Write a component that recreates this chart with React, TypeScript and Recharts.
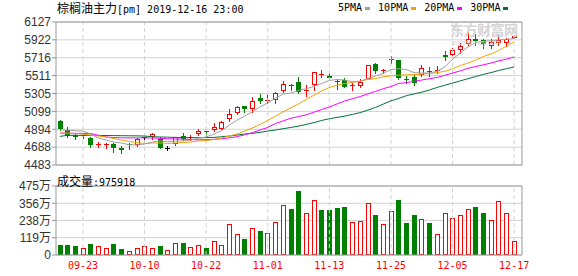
import { ComposedChart, BarChart, Bar, Line, XAxis, YAxis, CartesianGrid, ReferenceLine } from 'recharts'

const DATES = [
  '09-18', '09-19', '09-20', '09-23', '09-24', '09-25', '09-26', '09-27', '09-30', '10-08',
  '10-09', '10-10', '10-11', '10-14', '10-15', '10-16', '10-17', '10-18', '10-21', '10-22',
  '10-23', '10-24', '10-25', '10-28', '10-29', '10-30', '10-31', '11-01', '11-04', '11-05',
  '11-06', '11-07', '11-08', '11-11', '11-12', '11-13', '11-14', '11-15', '11-18', '11-19',
  '11-20', '11-21', '11-22', '11-25', '11-26', '11-27', '11-28', '11-29', '12-02', '12-03',
  '12-04', '12-05', '12-06', '12-09', '12-10', '12-11', '12-12', '12-13', '12-16', '12-17',
]

const OPEN = [
  4988, 4880, 4831, 4822, 4793, 4724, 4726, 4728, 4678, 4724,
  4713, 4800, 4808, 4782, 4682, 4724, 4816, 4790, 4839, 4870,
  4885, 4900, 5014, 5083, 5160, 5129, 5248, 5225, 5229, 5336,
  5389, 5439, 5340, 5401, 5525, 5504, 5450, 5458, 5399, 5389,
  5466, 5642, 5569, 5703, 5688, 5466, 5496, 5519, 5565, 5573,
  5745, 5749, 5802, 5871, 5932, 5917, 5848, 5886, 5886, 5948,
]
const HIGH = [
  4999, 4915, 4847, 4854, 4801, 4747, 4732, 4739, 4701, 4732,
  4790, 4828, 4854, 4801, 4705, 4808, 4847, 4828, 4893, 4872,
  4969, 4992, 5122, 5160, 5160, 5267, 5298, 5286, 5324, 5450,
  5409, 5496, 5397, 5550, 5573, 5553, 5466, 5478, 5427, 5466,
  5634, 5657, 5588, 5734, 5688, 5511, 5527, 5634, 5615, 5619,
  5795, 5833, 5883, 6017, 5986, 5932, 5932, 5978, 5948, 5978,
]
const LOW = [
  4885, 4810, 4778, 4790, 4693, 4693, 4682, 4632, 4624, 4663,
  4705, 4763, 4778, 4675, 4655, 4709, 4770, 4770, 4824, 4801,
  4877, 4893, 4992, 5068, 5091, 5091, 5198, 5191, 5198, 5321,
  5344, 5313, 5282, 5344, 5489, 5458, 5351, 5374, 5344, 5374,
  5466, 5542, 5535, 5650, 5466, 5424, 5397, 5501, 5501, 5538,
  5688, 5719, 5765, 5856, 5863, 5833, 5825, 5863, 5856, 5940,
]
const CLOSE = [
  4893, 4820, 4801, 4828, 4713, 4727, 4729, 4682, 4655, 4716,
  4782, 4800, 4835, 4682, 4682, 4801, 4785, 4808, 4877, 4866,
  4916, 4977, 5068, 5145, 5122, 5221, 5214, 5229, 5313, 5412,
  5404, 5324, 5344, 5550, 5530, 5478, 5435, 5381, 5401, 5439,
  5627, 5565, 5573, 5707, 5478, 5462, 5420, 5596, 5561, 5580,
  5730, 5806, 5848, 5932, 5909, 5879, 5902, 5925, 5932, 5971,
]

// 成交量, 万
const VOLUME = [
  69, 69, 62, 46, 76, 60, 46, 76, 39, 25,
  46, 60, 46, 60, 32, 80, 83, 53, 67, 48,
  94, 67, 211, 142, 108, 184, 165, 149, 225, 342,
  315, 441, 287, 377, 310, 310, 324, 331, 228, 234,
  359, 276, 214, 303, 379, 221, 276, 248, 221, 145,
  290, 255, 276, 317, 331, 290, 241, 372, 290, 97.5918,
]

const MA5 = [
  4885, 4885, 4877, 4873, 4839, 4793, 4770, 4747, 4736, 4716,
  4713, 4724, 4747, 4759, 4750, 4759, 4759, 4770, 4790, 4805,
  4839, 4877, 4942, 4999, 5045, 5095, 5152, 5194, 5252, 5298,
  5310, 5340, 5360, 5385, 5420, 5455, 5466, 5460, 5440, 5445,
  5478, 5505, 5535, 5580, 5590, 5580, 5545, 5540, 5540, 5560,
  5610, 5700, 5770, 5840, 5890, 5905, 5912, 5920, 5928, 5938,
]
const MA10 = [
  4850, 4850, 4845, 4839, 4827, 4816, 4805, 4787, 4770, 4753,
  4741, 4730, 4736, 4736, 4730, 4736, 4741, 4747, 4759, 4764,
  4776, 4793, 4816, 4839, 4873, 4908, 4950, 4995, 5045, 5095,
  5140, 5185, 5237, 5286, 5336, 5374, 5401, 5420, 5432, 5447,
  5466, 5478, 5496, 5508, 5515, 5520, 5522, 5528, 5535, 5545,
  5560, 5590, 5625, 5655, 5690, 5730, 5760, 5800, 5850, 5900,
]
const MA20 = [
  4850, 4848, 4847, 4846, 4845, 4825, 4805, 4798, 4796, 4795,
  4795, 4795, 4793, 4790, 4785, 4782, 4780, 4776, 4772, 4775,
  4778, 4785, 4795, 4808, 4830, 4855, 4885, 4915, 4960, 4990,
  5020, 5040, 5060, 5090, 5120, 5150, 5185, 5220, 5245, 5270,
  5300, 5330, 5360, 5385, 5420, 5430, 5445, 5460, 5475, 5490,
  5515, 5540, 5565, 5595, 5615, 5635, 5655, 5680, 5700, 5725,
]
const MA30 = [
  4812, 4824, 4824, 4824, 4824, 4823, 4822, 4821, 4820, 4819,
  4818, 4816, 4808, 4805, 4803, 4800, 4798, 4797, 4797, 4798,
  4800, 4808, 4816, 4827, 4839, 4847, 4858, 4873, 4885, 4900,
  4915, 4930, 4950, 4970, 4995, 5015, 5030, 5045, 5065, 5085,
  5114, 5145, 5183, 5221, 5248, 5280, 5300, 5320, 5345, 5375,
  5400, 5425, 5450, 5475, 5500, 5525, 5545, 5570, 5590, 5610,
]

const X_TICKS = ['09-23', '10-10', '10-22', '11-01', '11-13', '11-25', '12-05', '12-17']
const PRICE_TICKS = [4483, 4688, 4894, 5099, 5305, 5511, 5716, 5922, 6127]
const VOL_TICKS = [0, 119, 238, 356, 475]

const LEGEND = [
  { name: '5PMA', color: '#a0a0a0' },
  { name: '10PMA', color: '#f5a300' },
  { name: '20PMA', color: '#ff00ff' },
  { name: '30PMA', color: '#00733a' },
]

const RED = '#ff0000'
const GREEN = '#008000'
const FRAME = '#999999'
const GRID = '#d2d2d2'
const MONO = '"DejaVu Sans Mono", monospace'
const CJK = '"Noto Sans CJK SC", sans-serif'
const SANS = '"Liberation Sans", "Noto Sans CJK SC", sans-serif'

const rows = DATES.map((date, i) => ({
  date,
  open: OPEN[i],
  high: HIGH[i],
  low: LOW[i],
  close: CLOSE[i],
  range: [LOW[i], HIGH[i]],
  vol: VOLUME[i],
  volUp: i === 0 ? CLOSE[i] >= OPEN[i] : CLOSE[i] >= CLOSE[i - 1],
  ma5: MA5[i],
  ma10: MA10[i],
  ma20: MA20[i],
  ma30: MA30[i],
}))

function Candle(props: any) {
  const { x, y, width, height, payload } = props
  if (!payload) return null
  const { open, close, high, low } = payload
  const top = Math.min(y, y + height)
  const span = Math.abs(height)
  const k = high === low ? 0 : span / (high - low)
  const py = (v: number) => Math.round(top + (high - v) * k)
  const c = Math.round(x + width / 2)
  const yHi = py(high)
  const yLo = py(low)
  const bTop = py(Math.max(open, close))
  const bBot = py(Math.min(open, close))

  if (close === open) {
    return (
      <g>
        <line x1={c + 0.5} x2={c + 0.5} y1={yHi} y2={yLo + 1} stroke="#000" />
        <line x1={c - 2} x2={c + 3} y1={bTop + 0.5} y2={bTop + 0.5} stroke="#000" />
      </g>
    )
  }
  if (close > open) {
    const h = Math.max(bBot - bTop, 1)
    return (
      <g>
        <line x1={c + 0.5} x2={c + 0.5} y1={yHi} y2={bTop} stroke={RED} />
        <line x1={c + 0.5} x2={c + 0.5} y1={bTop + h} y2={yLo + 1} stroke={RED} />
        {h > 1 ? (
          <rect x={c - 1.5} y={bTop + 0.5} width={4} height={h - 1} fill="#fff" stroke={RED} />
        ) : (
          <line x1={c - 2} x2={c + 3} y1={bTop + 0.5} y2={bTop + 0.5} stroke={RED} />
        )}
      </g>
    )
  }
  return (
    <g>
      <line x1={c + 0.5} x2={c + 0.5} y1={yHi} y2={yLo + 1} stroke={GREEN} />
      <rect x={c - 2} y={bTop} width={5} height={Math.max(bBot - bTop, 1)} fill={GREEN} />
    </g>
  )
}

function VolBar(props: any) {
  const { x, y, width, height, payload } = props
  if (!payload || !height) return null
  const c = Math.round(x + width / 2)
  const t = Math.round(y)
  const h = Math.round(y + height) - t
  if (payload.volUp) {
    return <rect x={c - 1.5} y={t + 0.5} width={4} height={Math.max(h - 1, 0)} fill="#fff" stroke={RED} />
  }
  return <rect x={c - 2} y={t} width={5} height={h} fill={GREEN} />
}

const axisTick = { fill: '#333', fontSize: 12, fontFamily: SANS }

function PriceChart() {
  return (
    <ComposedChart width={578} height={176} data={rows} margin={{ top: 21, right: 55, bottom: 10, left: 0 }}>
      <CartesianGrid vertical={false} stroke={GRID} />
      <XAxis dataKey="date" height={1} tick={false} tickLine={false} axisLine={{ stroke: FRAME }} padding={{ left: 0, right: 4 }} />
      <XAxis xAxisId="top" dataKey="date" orientation="top" height={1} tick={false} tickLine={false} axisLine={{ stroke: FRAME }} />
      <YAxis
        domain={[4483, 6127]}
        ticks={PRICE_TICKS}
        width={56}
        tick={axisTick}
        tickSize={4}
        tickMargin={1}
        tickLine={{ stroke: FRAME }}
        axisLine={{ stroke: FRAME }}
        allowDataOverflow
        interval={0}
      />
      <YAxis yAxisId="right" orientation="right" width={1} tick={false} tickLine={false} axisLine={{ stroke: FRAME }} />
      {X_TICKS.map((d) => (
        <ReferenceLine key={d} x={d} stroke={GRID} strokeDasharray="4 3" />
      ))}
      <Line dataKey="ma30" stroke={LEGEND[3].color} dot={false} strokeWidth={1} isAnimationActive={false} />
      <Line dataKey="ma20" stroke={LEGEND[2].color} dot={false} strokeWidth={1} isAnimationActive={false} />
      <Line dataKey="ma10" stroke={LEGEND[1].color} dot={false} strokeWidth={1} isAnimationActive={false} />
      <Line dataKey="ma5" stroke={LEGEND[0].color} dot={false} strokeWidth={1} isAnimationActive={false} />
      <Bar dataKey="range" barSize={5} shape={<Candle />} isAnimationActive={false} />
    </ComposedChart>
  )
}

function VolumeChart() {
  return (
    <BarChart width={578} height={106} data={rows} margin={{ top: 15, right: 55, bottom: 1, left: 0 }}>
      <CartesianGrid vertical={false} stroke={GRID} />
      <XAxis
        dataKey="date"
        height={20}
        ticks={X_TICKS}
        interval={0}
        tickLine={false}
        tickSize={6}
        tickMargin={1}
        tick={{ fill: RED, fontSize: 10, fontFamily: MONO }}
        axisLine={{ stroke: FRAME }}
        padding={{ left: 0, right: 4 }}
      />
      <XAxis xAxisId="top" dataKey="date" orientation="top" height={1} tick={false} tickLine={false} axisLine={{ stroke: FRAME }} />
      <YAxis
        domain={[0, 475]}
        ticks={VOL_TICKS}
        width={56}
        tick={axisTick}
        tickSize={4}
        tickMargin={1}
        tickLine={{ stroke: FRAME }}
        axisLine={{ stroke: FRAME }}
        tickFormatter={(v: number) => (v === 0 ? '0' : `${v}万`)}
        interval={0}
      />
      <YAxis yAxisId="right" orientation="right" width={1} tick={false} tickLine={false} axisLine={{ stroke: FRAME }} />
      {X_TICKS.map((d) => (
        <ReferenceLine key={d} x={d} stroke={GRID} strokeDasharray="4 3" />
      ))}
      <Bar dataKey="vol" barSize={5} shape={<VolBar />} isAnimationActive={false} />
    </BarChart>
  )
}

export default function App() {
  const last = Math.round(VOLUME[VOLUME.length - 1] * 10000)
  return (
    <div style={{ position: 'absolute', left: 0, top: 0, width: 578, height: 276, background: '#fff', overflow: 'hidden' }}>
      <div style={{ position: 'absolute', left: 0, top: 0 }}>
        <PriceChart />
      </div>
      <div style={{ position: 'absolute', left: 0, top: 170 }}>
        <VolumeChart />
      </div>
      <div style={{ position: 'absolute', left: 57, top: 0, fontSize: 12, lineHeight: '15px', color: '#000', whiteSpace: 'nowrap' }}>
        <span style={{ fontFamily: CJK }}>棕榈油主力</span>
        <span style={{ fontFamily: MONO, fontSize: 10 }}>[pm] 2019-12-16 23:00</span>
      </div>
      <div style={{ position: 'absolute', left: 338, top: 1, display: 'flex', alignItems: 'center', whiteSpace: 'nowrap' }}>
        {LEGEND.map((l) => (
          <span key={l.name} style={{ display: 'inline-flex', alignItems: 'center', marginRight: 8 }}>
            <span style={{ fontFamily: MONO, fontSize: 10, lineHeight: '14px', color: '#000' }}>{l.name}</span>
            <span style={{ display: 'inline-block', width: 5, height: 3, marginLeft: 3, background: l.color }} />
          </span>
        ))}
      </div>
      <div style={{ position: 'absolute', left: 450, top: 22, color: '#d4d4d4', fontFamily: CJK, fontSize: 14, lineHeight: '15px', fontWeight: 'bold', letterSpacing: -0.5, whiteSpace: 'nowrap' }}>
        东方财富网
      </div>
      <div style={{ position: 'absolute', left: 452, top: 39, color: '#d4d4d4', fontFamily: SANS, fontSize: 7, lineHeight: '7px', whiteSpace: 'nowrap' }}>
        eastmoney.com
      </div>
      <div style={{ position: 'absolute', left: 57, top: 173, fontSize: 12, lineHeight: '15px', color: '#000', whiteSpace: 'nowrap' }}>
        <span style={{ fontFamily: CJK }}>成交量</span>
        <span style={{ fontFamily: MONO, fontSize: 10 }}>:{last}</span>
      </div>
    </div>
  )
}
